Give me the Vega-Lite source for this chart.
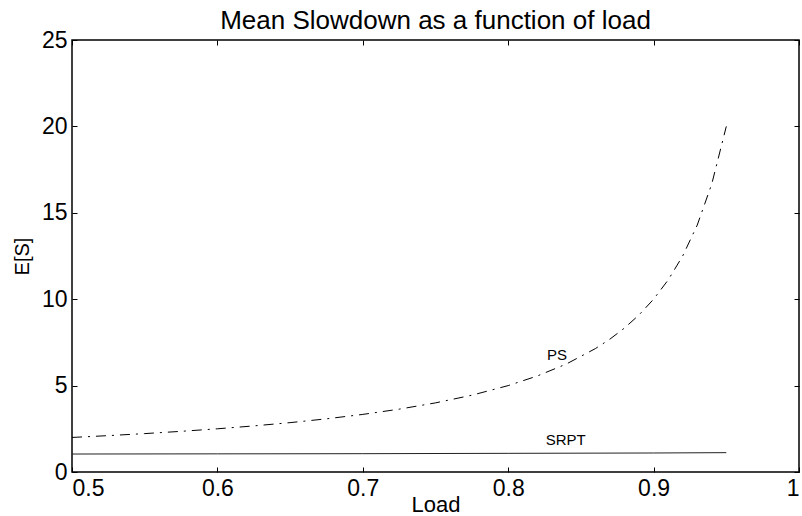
{
  "$schema": "https://vega.github.io/schema/vega-lite/v6.json",
  "width": 727,
  "height": 432,
  "autosize": "none",
  "padding": {"left": 72, "top": 40, "right": 3, "bottom": 44},
  "background": "white",
  "title": {
    "text": "Mean Slowdown as a function of load",
    "font": "Liberation Sans",
    "fontSize": 26,
    "fontWeight": "normal",
    "color": "black",
    "anchor": "middle",
    "offset": -5
  },
  "config": {
    "view": {"stroke": "black", "strokeWidth": 1.5},
    "axis": {
      "labelFont": "Liberation Sans",
      "titleFont": "Liberation Sans",
      "labelColor": "black",
      "titleColor": "black",
      "labelFontSize": 23,
      "titleFontSize": 21,
      "titleFontWeight": "normal",
      "grid": false,
      "domainColor": "black",
      "domainWidth": 1.5,
      "tickColor": "black",
      "tickWidth": 1,
      "tickSize": -5
    }
  },
  "datasets": {
    "ps": [
      {"load": 0.5, "s": 2.0},
      {"load": 0.525, "s": 2.105},
      {"load": 0.55, "s": 2.222},
      {"load": 0.575, "s": 2.353},
      {"load": 0.6, "s": 2.5},
      {"load": 0.625, "s": 2.667},
      {"load": 0.65, "s": 2.857},
      {"load": 0.675, "s": 3.077},
      {"load": 0.7, "s": 3.333},
      {"load": 0.725, "s": 3.636},
      {"load": 0.75, "s": 4.0},
      {"load": 0.775, "s": 4.444},
      {"load": 0.8, "s": 5.0},
      {"load": 0.82, "s": 5.556},
      {"load": 0.84, "s": 6.25},
      {"load": 0.86, "s": 7.143},
      {"load": 0.87, "s": 7.692},
      {"load": 0.88, "s": 8.333},
      {"load": 0.89, "s": 9.091},
      {"load": 0.9, "s": 10.0},
      {"load": 0.91, "s": 11.111},
      {"load": 0.92, "s": 12.5},
      {"load": 0.93, "s": 14.286},
      {"load": 0.94, "s": 16.667},
      {"load": 0.95, "s": 20.0}
    ],
    "srpt": [
      {"load": 0.5, "s": 1.04},
      {"load": 0.6, "s": 1.05},
      {"load": 0.7, "s": 1.06},
      {"load": 0.8, "s": 1.08},
      {"load": 0.9, "s": 1.1},
      {"load": 0.95, "s": 1.12}
    ],
    "labels": [
      {"load": 0.8336, "s": 6.75, "name": "PS"},
      {"load": 0.8395, "s": 1.85, "name": "SRPT"}
    ]
  },
  "layer": [
    {
      "data": {"name": "ps"},
      "mark": {"type": "line", "color": "black", "strokeWidth": 1, "strokeDash": [10, 6, 2, 6], "clip": true},
      "encoding": {
        "x": {
          "field": "load", "type": "quantitative",
          "scale": {"domain": [0.5, 1], "nice": false, "zero": false},
          "axis": {"values": [0.5, 0.6, 0.7, 0.8, 0.9, 1], "title": "Load", "titleFontSize": 22, "labelPadding": 10, "titlePadding": -6, "domain": false, "labelExpr": "datum.value == 1 ? '1' : format(datum.value, '.1f')"}
        },
        "y": {
          "field": "s", "type": "quantitative",
          "scale": {"domain": [0, 25], "nice": false},
          "axis": {"values": [0, 5, 10, 15, 20, 25], "title": "E[S]", "titleFontSize": 20, "labelPadding": 10, "titlePadding": 9, "domain": false}
        }
      }
    },
    {
      "data": {"name": "srpt"},
      "mark": {"type": "line", "color": "#222222", "strokeWidth": 1},
      "encoding": {
        "x": {
          "field": "load", "type": "quantitative",
          "axis": {"orient": "top", "values": [0.5, 0.6, 0.7, 0.8, 0.9, 1], "labels": false, "title": null, "domain": false}
        },
        "y": {
          "field": "s", "type": "quantitative",
          "axis": {"orient": "right", "values": [0, 5, 10, 15, 20, 25], "labels": false, "title": null, "domain": false}
        }
      }
    },
    {
      "data": {"name": "labels"},
      "mark": {"type": "text", "font": "Liberation Sans", "fontSize": 15, "color": "black", "align": "center", "baseline": "middle"},
      "encoding": {
        "x": {"field": "load", "type": "quantitative", "axis": null},
        "y": {"field": "s", "type": "quantitative", "axis": null},
        "text": {"field": "name"}
      }
    }
  ],
  "resolve": {"axis": {"x": "independent", "y": "independent"}}
}
